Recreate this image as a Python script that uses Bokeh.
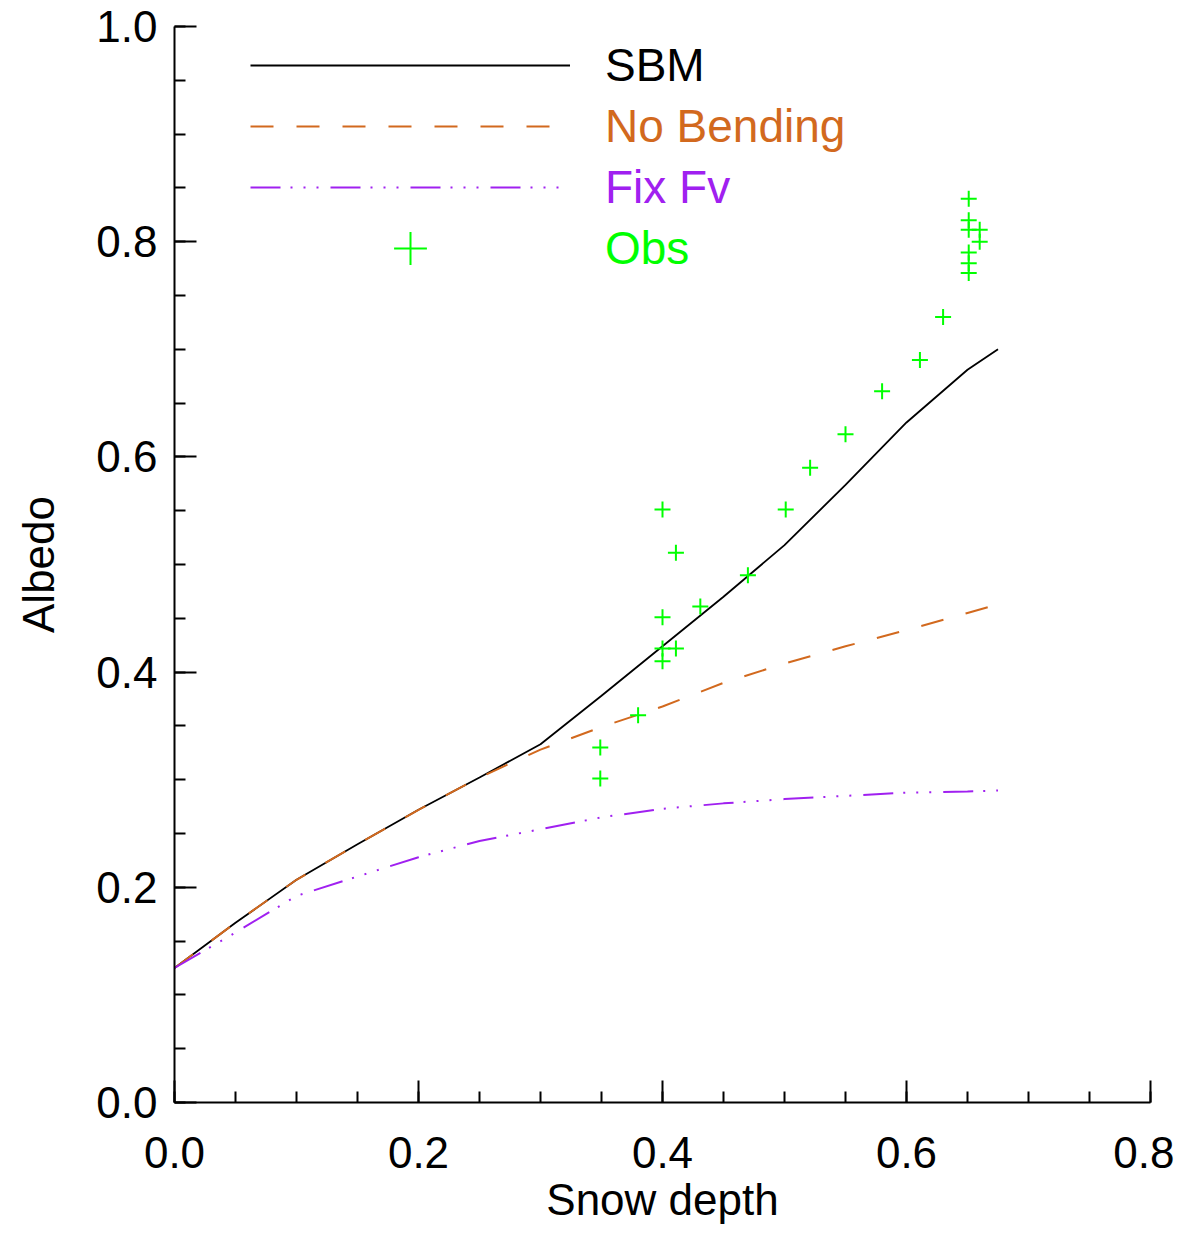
from bokeh.plotting import figure
from bokeh.models import Range1d, FixedTicker, PrintfTickFormatter, Legend, LegendItem
from bokeh.embed import file_html
from bokeh.resources import INLINE

# ---- data ----
depth = [0.0, 0.05, 0.1, 0.15, 0.2, 0.25, 0.3, 0.35, 0.4, 0.45, 0.5, 0.55, 0.6, 0.65, 0.675]
sbm = [0.125, 0.167, 0.207, 0.240, 0.272, 0.302, 0.333, 0.378, 0.424, 0.470, 0.518, 0.574, 0.632, 0.681, 0.700]
no_bending = [0.125, 0.167, 0.207, 0.240, 0.272, 0.302, 0.328, 0.349, 0.368, 0.390, 0.408, 0.424, 0.439, 0.455, 0.463]
fix_fv = [0.125, 0.158, 0.192, 0.210, 0.228, 0.243, 0.254, 0.265, 0.273, 0.278, 0.282, 0.285, 0.288, 0.289, 0.290]

obs_x = [0.349, 0.349, 0.380, 0.400, 0.411, 0.400, 0.431, 0.400, 0.411, 0.400, 0.470, 0.501,
         0.521, 0.550, 0.580, 0.611, 0.630, 0.651, 0.651, 0.651, 0.651, 0.651, 0.651, 0.660, 0.660]
obs_y = [0.301, 0.330, 0.360, 0.551, 0.511, 0.451, 0.461, 0.422, 0.422, 0.410, 0.490, 0.551,
         0.590, 0.621, 0.661, 0.690, 0.730, 0.840, 0.820, 0.811, 0.790, 0.780, 0.771, 0.811, 0.800]

x_major = [0.0, 0.2, 0.4, 0.6, 0.8]
y_major = [0.0, 0.2, 0.4, 0.6, 0.8, 1.0]
x_minor = [i * 0.05 for i in range(17)]
y_minor = [i * 0.05 for i in range(21)]

FONT = "Liberation Sans"
ORANGE = "#D2691E"
PURPLE = "#A020F0"
GREEN = "#00FF00"

p = figure(width=1174, height=1226, output_backend="svg", toolbar_location=None,
           x_range=Range1d(0, 0.8), y_range=Range1d(0, 1.0),
           min_border_left=174, min_border_right=24, min_border_top=26, min_border_bottom=124)
p.outline_line_color = None
p.xgrid.visible = False
p.ygrid.visible = False
p.background_fill_color = "white"

for ax, maj, mnr in ((p.xaxis[0], x_major, x_minor), (p.yaxis[0], y_major, y_minor)):
    ax.ticker = FixedTicker(ticks=maj, minor_ticks=mnr)
    ax.formatter = PrintfTickFormatter(format="%.1f")
    ax.axis_line_width = 2
    ax.major_tick_line_width = 2
    ax.minor_tick_line_width = 2
    ax.major_tick_in = 22
    ax.major_tick_out = 0
    ax.minor_tick_in = 11
    ax.minor_tick_out = 0
    ax.major_label_text_font = FONT
    ax.major_label_text_font_size = "44px"
    ax.major_label_text_font_style = "normal"
    ax.major_label_text_color = "black"
    ax.axis_label_text_font = FONT
    ax.axis_label_text_font_size = "44px"
    ax.axis_label_text_font_style = "normal"
    ax.axis_label_text_color = "black"

p.xaxis.axis_label = "Snow depth"
p.yaxis.axis_label = "Albedo"
p.xaxis.major_label_standoff = 34
p.xaxis.axis_label_standoff = 4
p.yaxis.major_label_standoff = 17
p.yaxis.axis_label_standoff = 30

r_sbm = p.line(depth, sbm, line_color="black", line_width=1.8)
r_nb = p.line(depth, no_bending, line_color=ORANGE, line_width=2, line_dash="23 23")
r_fv = p.line(depth, fix_fv, line_color=PURPLE, line_width=2, line_dash="30 10 2 11 2 11 2 12")
r_obs = p.scatter(obs_x, obs_y, marker="cross", size=16, line_color=GREEN, line_width=2)

legend_specs = [
    ("SBM", r_sbm, "black", 1009, 56),
    ("No Bending", r_nb, ORANGE, 948, 56),
    ("Fix Fv", r_fv, PURPLE, 887, 56),
    ("Obs", r_obs, GREEN, 813, 82),
]
for label, rend, color, ypos, gh in legend_specs:
    leg = Legend(items=[LegendItem(label=label, renderers=[rend])], location=(76, ypos),
                 glyph_width=320, glyph_height=gh, label_height=gh, label_standoff=35,
                 padding=0, margin=0, spacing=0, border_line_color=None,
                 background_fill_alpha=0, label_text_font=FONT,
                 label_text_font_size="46px", label_text_color=color)
    p.add_layout(leg)

open("out.html", "w").write(file_html(p, INLINE))
